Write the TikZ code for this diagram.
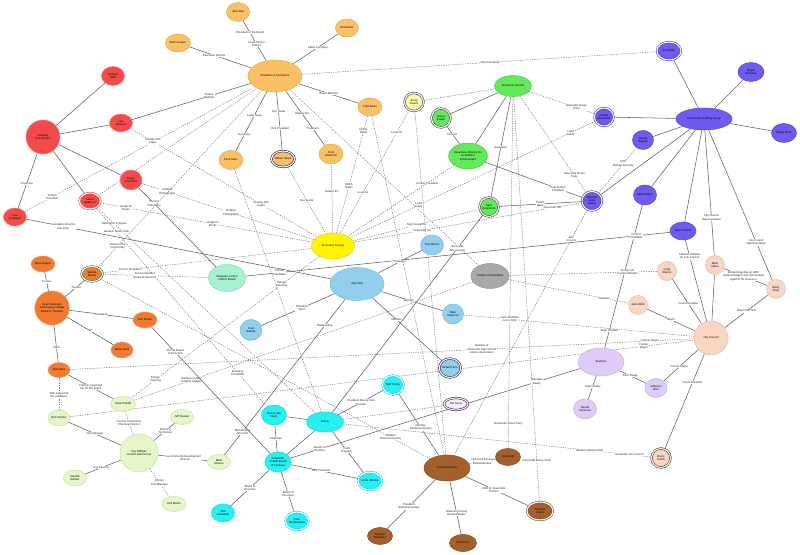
\documentclass[tikz,border=0pt]{standalone}
\usepackage{fontspec}
\setmainfont{Liberation Sans}
\usetikzlibrary{shapes.geometric,backgrounds}
\definecolor{orF}{HTML}{F9C065}\definecolor{orD}{HTML}{EFAE4C}
\definecolor{rdF}{HTML}{F44A4A}\definecolor{rdD}{HTML}{F98080}
\definecolor{grF}{HTML}{62EA5A}\definecolor{grD}{HTML}{4FD04A}
\definecolor{ylF}{HTML}{FFF500}\definecolor{ylD}{HTML}{E3DA00}
\definecolor{ypF}{HTML}{FFF7A8}
\definecolor{puF}{HTML}{6D5BF2}\definecolor{puD}{HTML}{5A48E0}
\definecolor{peF}{HTML}{F9D6C4}\definecolor{peD}{HTML}{EEBBA6}
\definecolor{laF}{HTML}{DFCBF7}\definecolor{laD}{HTML}{C9B2EC}
\definecolor{gyF}{HTML}{A9A9A9}\definecolor{gyD}{HTML}{959595}
\definecolor{lbF}{HTML}{92CFEE}\definecolor{lbD}{HTML}{7ABDE0}
\definecolor{mnF}{HTML}{A6F2D0}\definecolor{mnD}{HTML}{86DDB5}
\definecolor{doF}{HTML}{F07B30}\definecolor{doD}{HTML}{F59A60}
\definecolor{lgF}{HTML}{E6F6C8}\definecolor{lgD}{HTML}{C7E3A0}
\definecolor{cyF}{HTML}{28F0F2}\definecolor{cyD}{HTML}{10DDE0}
\definecolor{brF}{HTML}{A3602C}\definecolor{brD}{HTML}{8E5020}
\definecolor{navy2}{HTML}{2B2B55}
\definecolor{lineS}{HTML}{5E5E5E}\definecolor{lineD}{HTML}{7A7A7A}
\newcommand\mknode[7]{\node[nd,#6,minimum width=#4*0.75pt,minimum height=#5*0.75pt] (#1) at (#2,#3) {#7};}
\tikzset{
  every node/.style={font=\fontsize{2.1}{2.45}\selectfont, align=center},
  nd/.style={ellipse, inner sep=0pt, line width=0.4pt},
  dbl/.style={double=white, double distance=0.8pt, line width=0.45pt},
  ss/.style={draw=lineS, line width=0.4pt},
  dd/.style={draw=lineD, line width=0.38pt, dash pattern=on 0.9pt off 0.9pt},
  lb/.style={fill=white, inner sep=0.2pt, text=black!85},
  orN/.style={fill=orF,draw=orD}, rdN/.style={fill=rdF,draw=rdD},
  grN/.style={fill=grF,draw=grD}, ylN/.style={fill=ylF,draw=ylD},
  puN/.style={fill=puF,draw=puD}, peN/.style={fill=peF,draw=peD},
  laN/.style={fill=laF,draw=laD}, gyN/.style={fill=gyF,draw=gyD},
  lbN/.style={fill=lbF,draw=lbD}, mnN/.style={fill=mnF,draw=mnD},
  doN/.style={fill=doF,draw=doD}, lgN/.style={fill=lgF,draw=lgD},
  cyN/.style={fill=cyF,draw=cyD}, brN/.style={fill=brF,draw=brD}
}
\begin{document}
\begin{tikzpicture}[x=0.75pt,y=-0.75pt]
\useasboundingbox (0,0) rectangle (800,555);
% chamber cluster
\mknode{cham}{275}{76}{54}{32}{orN}{Chamber of Commerce}
\mknode{jane}{238}{12}{23}{19}{orN}{Jane Doe}
\mknode{bobd}{347}{28}{23}{18}{orN}{Bob Davis}
\mknode{beth}{178}{43}{25}{18}{orN}{Beth Cooper}
\mknode{fred}{370}{107}{24}{18}{orN}{Fred Davis}
\mknode{sand}{331}{154}{24}{20}{orN}{Scott\\Anderson}
\mknode{hines}{283}{159}{22}{16}{orN,dbl,draw=navy2}{Robert Hines}
\mknode{sstern}{231}{160}{24}{19}{orN}{Scott Stern}
% red
\mknode{plan}{43}{137}{34}{34}{rdN}{Planning\\Commission}
\mknode{mwall}{113}{76}{23}{19}{rdN}{Michael\\Wall}
\mknode{leej}{121}{123}{23}{18}{rdN}{Lee\\Jameson}
\mknode{roger}{131}{180}{22}{20}{rdN}{Roger\\Chinchilla}
\mknode{lisa}{15}{217}{23}{18}{rdN}{Lisa\\Lundquist}
\mknode{laura}{90}{201}{21}{16}{rdN,dbl,draw=rdF}{Laura\\Anderson}
% green
\mknode{econ}{513}{86}{37}{21}{grN}{Economic Council}
\mknode{jenny}{414}{102}{19}{18}{fill=ypF,dbl,draw=black!70}{Jenny\\Dowel}
\mknode{nancy}{441}{118}{19}{19}{grN,dbl,draw=black!70}{Nancy\\Fowler}
\mknode{green}{468}{156}{30}{26}{grN}{Greenway Alliance for\\a Healthier\\Environment}
\mknode{kent}{489}{207}{19}{19}{grN,dbl,draw=black!70}{Kent\\Bergstrom}
% yellow
\mknode{econsoc}{333}{246}{43}{26}{ylN}{Economic Society}
% purple
\mknode{cbg}{704}{119}{56}{22}{puN}{Community Building Group}
\mknode{leem}{669}{51}{24}{18}{puN,dbl,draw=puD}{Lee Miller}
\mknode{rsher}{751}{72}{26}{19}{puN}{Roger\\Sherman}
\mknode{hailey}{784}{133}{25}{19}{puN}{Hailey Bond}
\mknode{daniel}{643}{140}{21}{19}{puN}{Daniel\\Stewart}
\mknode{ronald}{604}{117}{19}{18}{puN,dbl,draw=puD!80!black}{Ronald\\Marquette}
\mknode{hart}{592}{201}{20}{19}{puN,dbl,draw=puD!80!black}{Hartford\\Grant\\Family}
\mknode{mgil}{645}{195}{23}{20}{puN}{Mark Gilbert}
\mknode{gary}{683}{231}{26}{18}{puN}{Gary Comms}
% peach
\mknode{cc}{711}{338}{34}{34}{peN}{City Council}
\mknode{cody}{667}{271}{19}{19}{peN}{Cody\\Warren}
\mknode{mclaire}{715}{265}{19}{19}{peN}{Mark\\Claire}
\mknode{barry}{776}{289}{19}{19}{peN}{Barry\\Shop}
\mknode{jack}{638}{305}{19}{19}{peN}{Jack Work}
\mknode{bruce}{661}{458}{19}{19}{peN,dbl,draw=brD!70!black}{Bruce\\Smith}
% lavender
\mknode{teach}{601}{362}{46}{28}{laN}{Teachers}
\mknode{jdorn}{656}{388}{22}{19}{laN}{Jefferson\\Dorn}
\mknode{gerald}{585}{409}{23}{20}{laN}{Gerald\\Simmons}
% grey
\mknode{knights}{490}{276}{38}{25}{gyN}{Knights of Columbus}
% light blue
\mknode{alta}{357}{284}{54}{33}{lbN}{Alta Club}
\mknode{tony}{432}{245}{23}{20}{lbN}{Tony Brown}
\mknode{mikea}{453}{314}{21}{20}{lbN}{Mike\\Anderson}
\mknode{freds}{251}{330}{22}{21}{lbN}{Fred\\Salinas}
\mknode{rhunt}{450}{368}{20}{19}{lbN,dbl,draw=navy2}{Robert Hunt}
\mknode{patj}{456}{404}{24}{12}{fill=laF!30!white,dbl,draw=navy2!80!purple}{Pat Jones}
% mint
\mknode{mosq}{227}{278}{37}{27}{mnN}{Mosquito Control\\District Board}
% dark orange
\mknode{hmcc}{52}{308}{34}{34}{doN}{Heart Mountain\\Community College\\Board of Trustees}
\mknode{ross}{43}{264}{24}{16}{doN}{Ross Rogers}
\mknode{wanda}{92}{274}{21}{15}{doN,dbl,draw=black!60!green!40!gray}{Wanda\\Barela}
\mknode{tomb}{145}{320}{24}{16}{doN}{Tom Brown}
\mknode{eddie}{122}{350}{22}{16}{doN}{Eddie Potts}
\mknode{bobm}{59}{370}{22}{15}{doN}{Bob Moss}
% light green
\mknode{co}{139}{453}{38}{38}{lgN}{City Officials\\Current and Former}
\mknode{dave}{123}{404}{25}{15}{lgN}{Dave Pinkoff}
\mknode{ronp}{59}{418}{22}{16}{lgN}{Ron Pontius}
\mknode{jeff}{182}{417}{23}{15}{lgN}{Jeff Stewart}
\mknode{rgar}{75}{478}{23}{16}{lgN}{Ronald\\Garnier}
\mknode{dell}{174}{504}{24}{15}{lgN}{Dell Martin}
\mknode{mglis}{219}{462}{23}{15}{lgN}{Mark\\Glisson}
% cyan
\mknode{rotary}{325}{422}{37}{20}{cyN}{Rotary}
\mknode{mason}{274}{415}{25}{20}{cyN}{Mason Van\\Noort}
\mknode{gsd}{278}{462}{26}{20}{cyN}{Greenville\\School Board\\of Trustees}
\mknode{toml}{223}{513}{23}{18}{cyN}{Tom\\Lebowski}
\mknode{paulh}{297}{521}{23}{18}{cyN,dbl,draw=cyD}{Paul\\Hendrickson}
\mknode{linda}{370}{481}{24}{18}{cyN,dbl,draw=cyD}{Linda Holmes}
\mknode{neil}{393}{385}{21}{19}{cyN,dbl,draw=cyD}{Neil Young}
% brown
\mknode{hs}{447}{468}{46}{26}{brN}{Preservationists}
\mknode{andy}{508}{457}{25}{17}{brN}{Andy Goff}
\mknode{thomas}{540}{511}{26}{18}{brN,dbl,draw=brD}{Thomas\\Cullen}
\mknode{joe}{463}{543}{27}{17}{brN}{Joe Peters}
\mknode{bea}{380}{536}{25}{17}{brN}{Beatrice\\Dempsey}

\begin{scope}[on background layer]
\fill[white] (0,0) rectangle (800,555);
% chamber
\draw[ss] (cham) -- node[lb,pos=.42]{Local School\\District} node[lb,pos=.7]{President of the Board} (jane);
\draw[ss] (cham) -- node[lb,pos=.55]{Cable Company} (bobd);
\draw[ss] (cham) -- node[lb,pos=.6]{Executive Director} (beth);
\draw[ss] (cham) -- node[lb,pos=.35]{Board\\Member} (leej);
\draw[ss] (cham) -- node[lb,pos=.5]{Board Member} (fred);
\draw[ss] (cham) -- node[lb,pos=.4]{Local Taxes} node[lb,pos=.72]{Secretary} (sstern);
\draw[ss] (cham) -- node[lb,pos=.33]{Tour Guide} node[lb,pos=.62]{Vice President} (hines);
\draw[ss] (cham) -- node[lb,pos=.42]{Holiday Inn} node[lb,pos=.7]{Treasurer} (sand);
\draw[dd] (cham) -- node[lb,pos=.53]{Past President} (leem);
\draw[dd] (cham) -- (knights);
\draw[dd] (laura) -- (cham);
\draw[dd] (lisa) -- node[lb,pos=.12]{Former\\President} (cham);
% red
\draw[ss] (plan) -- (mwall);
\draw[ss] (plan) -- (leej);
\draw[ss] (plan) -- (roger);
\draw[ss] (plan) -- node[lb,pos=.55]{Chairman} (lisa);
\draw[ss] (plan) -- (laura);
\draw[dd] (leej) -- node[lb,pos=.12]{Sunday Arts\\Paper} node[lb,pos=.7]{Sunday Arts\\Paper} (econsoc);
\draw[dd] (roger) -- node[lb,pos=.15]{Outdoor\\Photography} node[lb,pos=.52]{Outdoor\\Photography} (econsoc);
\draw[dd] (laura) -- node[lb,pos=.12]{Jungle for\\Books} node[lb,pos=.53]{Jungle for\\Books} (econsoc);
\draw[ss] (roger) -- node[lb,pos=.2]{Current\\Chancellor} (mosq);
\draw[dd] (laura) -- node[lb,pos=.08]{Relocation Program} (rotary);
\draw[dd] (laura) -- node[lb,pos=.12]{Western Movie Club} node[lb,pos=.83]{Moved to\\Pine Bluffs} (mason);
\draw[ss] (lisa) -- node[lb,pos=.12]{Foundation Director\\Alta Club} (alta);
% green
\draw[dd] (jenny) -- (econ);
\draw[ss] (nancy) -- (econ);
\draw[ss] (green) -- (econ);
\draw[ss] (nancy) -- node[lb,pos=.45]{Director} (green);
\draw[dd] (green) -- node[lb,pos=.25]{Former President} (econsoc);
\draw[ss] (econ) -- node[lb,pos=.5]{Education} (kent);
\draw[dd] (econ) -- node[lb,pos=.72]{Greenville Green\\Party} (ronald);
\draw[dd] (econ) -- node[lb,pos=.82]{Greenville Green\\Party} (hart);
\draw[dd] (econ) -- node[lb,pos=.93]{Greenville Green Party} (andy);
\draw[dd] (econ) -- node[lb,pos=.9]{Greenville Green Party} (thomas);
\draw[ss] (green) -- node[lb,pos=.75]{Past Former\\President} (hart);
\draw[ss] (kent) -- node[lb,pos=.5]{Pacific\\Bank} (hart);
\draw[dd] (ronald) -- node[lb,pos=.1]{Lead\\Cable} node[lb,pos=.72]{Lead\\Cable} (econsoc);
\draw[dd] (kent) -- node[lb,pos=.5]{Sign Insurance} (econsoc);
\draw[dd] (hart) -- node[lb,pos=.13]{Greenville Inn} node[lb,pos=.7]{Greenville Inn} (econsoc);
\draw[dd] (hart) -- node[lb,pos=.12]{Arts\\Council} (hs);
\draw[dd] (daniel) -- node[lb,pos=.35]{CDC\\Refuge Housing} (hart);
% purple
\foreach \t in {leem,rsher,hailey,daniel,ronald,hart,mgil,gary} \draw[ss] (cbg) -- (\t);
\draw[ss] (cbg) -- node[lb,pos=.7]{City Council\\Representative} (mclaire);
\draw[ss] (cbg) -- node[lb,pos=.75]{City Council\\Representative} (barry);
\draw[ss] (mgil) -- node[lb,pos=.88]{Team Position} (teach);
\draw[ss] (mosq) -- node[lb,pos=.08]{Current\\Candidate} node[lb,pos=.92]{Current\\Candidate} (gary);
% peach
\draw[ss] (cody) -- node[lb,pos=.55]{Councilmember} (cc);
\draw[ss] (mclaire) -- (cc);
\draw[ss] (barry) -- node[lb,pos=.5]{Mayor Pro Tem} (cc);
\draw[ss] (gary) -- node[lb,pos=.2]{Failed Candidate\\for City Council} (cc);
\draw[ss] (jack) -- node[lb,pos=.5]{Mayor} (cc);
\draw[ss] (mclaire) -- node[lb,pos=.45]{Worked together at 1985\\Federal budget case and worked\\together for Governor} (barry);
\draw[dd] (knights) -- node[lb,pos=.8]{Former VP\\Current Member} (cody);
\draw[dd] (knights) -- node[lb,pos=.8]{Member} (jack);
\draw[dd] (bobm) -- node[lb,pos=.66]{Member of\\Greenville High School\\Alumni Association} node[lb,pos=.93]{Former Mayor} (cc);
\draw[dd] (ronp) -- node[lb,pos=.92]{Former\\Mayor} (cc);
\draw[dd] (mikea) -- node[lb,pos=.2]{Last candidate\\run in 2004} (cc);
\draw[ss] (cc) -- node[lb,pos=.55]{Former Mayor} (jdorn);
\draw[ss] (cc) -- node[lb,pos=.3]{Councilmember} (bruce);
\draw[ss] (teach) -- node[lb,pos=.4]{Team Realty} (jdorn);
\draw[ss] (teach) -- node[lb,pos=.45]{Team Realty} (gerald);
\draw[ss] (gsd) -- node[lb,pos=.1]{Board of\\Directors} node[lb,pos=.85]{Volunteer\\Realty} (teach);
\draw[dd] (rotary) -- node[lb,pos=.8]{Western Mission Club} node[lb,pos=.93]{Greenville Arts Council} (bruce);
\draw[dd] (rotary) -- (patj);
\draw[dd] (knights) -- node[lb,pos=.83]{Member of Atlas\\Knights Chapter} (dave);
% blue
\draw[ss] (alta) -- node[lb,pos=.5]{Treasurer} (tony);
\draw[ss] (alta) -- node[lb,pos=.45]{Member} (mikea);
\draw[ss] (alta) -- node[lb,pos=.35]{Member} (rhunt);
\draw[ss] (alta) -- node[lb,pos=.45]{President\\Elect} (freds);
\draw[ss] (alta) -- node[lb,pos=.17]{Membership} node[lb,pos=.85]{Membership\\Alta Club} (mglis);
% dark orange
\draw[ss] (hmcc) -- node[lb,pos=.5]{Trustee} (ross);
\draw[ss] (hmcc) -- node[lb,pos=.55]{Trustee} (wanda);
\draw[ss] (hmcc) -- node[lb,pos=.5]{President} (tomb);
\draw[ss] (hmcc) -- node[lb,pos=.5]{VP} (eddie);
\draw[ss] (hmcc) -- node[lb,pos=.6]{Clerk} (bobm);
\draw[dd] (wanda) -- node[lb,pos=.12]{Friend of the\\Community} (cham);
\draw[dd] (wanda) -- node[lb,pos=.13]{Former President} (econsoc);
\draw[dd] (wanda) -- node[lb,pos=.4]{Former Member\\Board of Directors} (mosq);
\draw[dd] (wanda) -- node[lb,pos=.88]{Member\\Historical Society} (hs);
\draw[ss] (tomb) -- node[lb,pos=.2]{On the Board\\of Directors} (gsd);
% city officials
\draw[ss] (bobm) -- node[lb,pos=.5]{Publicly supported\\her for the board} (dave);
\draw[dd] (bobm) -- node[lb,pos=.55]{Wife supported\\his candidacy} (ronp);
\draw[dd] (co) -- node[lb,pos=.5]{Former Community\\Planning Director} (dave);
\draw[ss] (co) -- node[lb,pos=.5]{City Manager} (ronp);
\draw[ss] (co) -- node[lb,pos=.55]{Planning\\Technician} (jeff);
\draw[ss] (co) -- node[lb,pos=.55]{City Attorney} (rgar);
\draw[dd] (co) -- node[lb,pos=.5]{Former\\City Manager} (dell);
\draw[ss] (co) -- node[lb,pos=.55]{Community Development\\Director} (mglis);
\draw[dd] (econsoc) -- node[lb,pos=.2]{Refuge\\Planning} node[lb,pos=.87]{Refuge\\Planning} (dave);
% cyan
\draw[ss] (rotary) -- (mason);
\draw[ss] (rotary) -- (gsd);
\draw[ss] (rotary) -- node[lb,pos=.45]{Youth\\Program} (linda);
\draw[ss] (rotary) -- node[lb,pos=.5]{President Rotary Club\\Founder} (neil);
\draw[ss] (gsd) -- node[lb,pos=.5]{Chairman} (mason);
\draw[ss] (gsd) -- node[lb,pos=.5]{Board of\\Directors} (toml);
\draw[ss] (gsd) -- node[lb,pos=.55]{Board of\\Directors} (paulh);
\draw[ss] (gsd) -- node[lb,pos=.45]{Vice Chairman} (linda);
\draw[ss] (kent) -- node[lb,pos=.17]{Greenville\\Arts Council} (rotary);
\draw[dd] (sstern) -- (rotary);
\draw[ss] (neil) -- node[lb,pos=.55]{Member\\Historical Society} (hs);
\draw[dd] (fred) -- (hs);
\draw[dd] (jenny) -- (hs);
\draw[dd] (hines) -- node[lb,pos=.5]{Tour Guide} (econsoc);
\draw[dd] (sand) -- node[lb,pos=.4]{Holiday Inn} (econsoc);
\draw[dd] (fred) -- node[lb,pos=.13]{KDKS\\Radio} node[lb,pos=.6]{KDKS\\Radio} (econsoc);
\draw[dd] (jenny) -- node[lb,pos=.18]{Local Art} node[lb,pos=.67]{Local Art} (econsoc);
% brown
\draw[ss] (hs) -- node[lb,pos=.5]{Historical Society\\Board Member} (andy);
\draw[ss] (hs) -- node[lb,pos=.45]{CEO for Greenville\\Tourism} (thomas);
\draw[ss] (hs) -- node[lb,pos=.6]{Historical Society\\Board Member} (joe);
\draw[ss] (hs) -- node[lb,pos=.55]{President\\Historical Society} (bea);
\end{scope}
\end{tikzpicture}
\end{document}
